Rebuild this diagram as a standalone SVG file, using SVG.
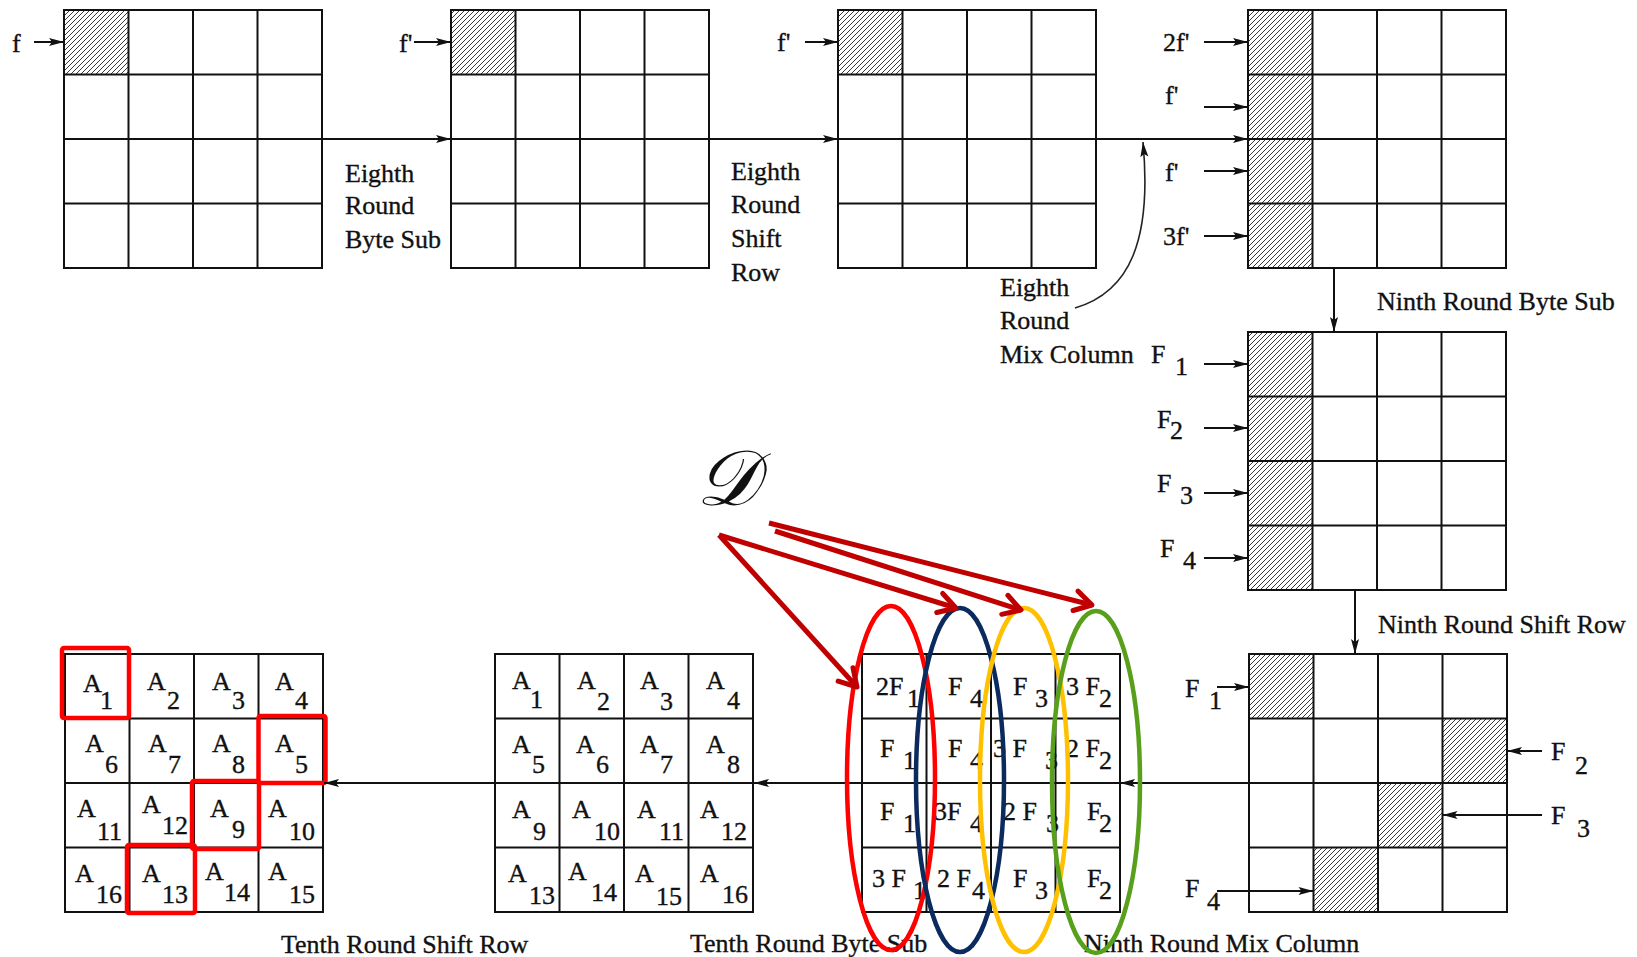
<svg xmlns="http://www.w3.org/2000/svg" width="1637" height="957" viewBox="0 0 1637 957">
<style>
.t{font-family:"Liberation Serif","Times New Roman",serif;font-size:26px;fill:#111;stroke:#111;stroke-width:0.35}
.s{font-family:"Liberation Serif","Times New Roman",serif;font-size:26px;fill:#111;stroke:#111;stroke-width:0.35}
.g{fill:none;stroke:#111;stroke-width:2}
.h{fill:url(#hatch)}
.ar{fill:none;stroke:#111;stroke-width:2;marker-end:url(#ah)}
.cv{fill:none;stroke:#222;stroke-width:1.6;marker-end:url(#ah)}
.ra{fill:none;stroke:#c00000;stroke-width:5;marker-end:url(#rh)}
.rb{fill:none;stroke:#ff0000;stroke-width:4.5}
.el{fill:none;stroke-width:4.5}
</style>
<defs>
<pattern id="hatch" patternUnits="userSpaceOnUse" width="5" height="5">
<path d="M-1,1 L1,-1 M0,5 L5,0 M4,6 L6,4" stroke="#222" stroke-width="0.9"/>
</pattern>
<g id="grid">
<rect class="g" x="0" y="0" width="258" height="258"/>
<path class="g" d="M64.5,0V258M129,0V258M193.5,0V258M0,64.5H258M0,129H258M0,193.5H258"/>
</g>
<marker id="ah" markerUnits="userSpaceOnUse" markerWidth="16" markerHeight="10" refX="15" refY="5" orient="auto" overflow="visible">
<path d="M0,1 L15,5 L0,9 L3,5 Z" fill="#111"/>
</marker>
<marker id="rh" markerUnits="userSpaceOnUse" markerWidth="24" markerHeight="24" refX="20" refY="11" orient="auto" overflow="visible">
<path d="M3,1 L20,11 L3,21" fill="none" stroke="#c00000" stroke-width="5" stroke-linejoin="round" stroke-linecap="round"/>
</marker>
</defs>
<rect width="1637" height="957" fill="#fff"/>

<g id="g1">
<rect class="h" x="64" y="10" width="64.5" height="64.5"/>
<use href="#grid" x="64" y="10"/>
<text class="t" x="12" y="52">f</text>
<text class="t" x="345" y="182">Eighth</text>
<text class="t" x="345" y="214">Round</text>
<text class="t" x="345" y="248">Byte Sub</text>
</g>
<g id="g2">
<rect class="h" x="451" y="10" width="64.5" height="64.5"/>
<use href="#grid" x="451" y="10"/>
<text class="t" x="399" y="52">f'</text>
<text class="t" x="731" y="180">Eighth</text>
<text class="t" x="731" y="213">Round</text>
<text class="t" x="731" y="247">Shift</text>
<text class="t" x="731" y="281">Row</text>
</g>
<g id="g3">
<rect class="h" x="838" y="10" width="64.5" height="64.5"/>
<use href="#grid" x="838" y="10"/>
<text class="t" x="777" y="51">f'</text>
<text class="t" x="1000" y="296">Eighth</text>
<text class="t" x="1000" y="329">Round</text>
<text class="t" x="1000" y="363">Mix Column</text>
</g>
<g id="g4">
<rect class="h" x="1248" y="10" width="64.5" height="258"/>
<use href="#grid" x="1248" y="10"/>
<text class="t" x="1163" y="51">2f'</text>
<text class="t" x="1165" y="104">f'</text>
<text class="t" x="1165" y="181">f'</text>
<text class="t" x="1163" y="245">3f'</text>
<text class="t" x="1377" y="310">Ninth Round Byte Sub</text>
</g>
<g id="g5">
<rect class="h" x="1248" y="332" width="64.5" height="258"/>
<use href="#grid" x="1248" y="332"/>
<text class="t" x="1151" y="363">F</text><text class="s" x="1175" y="375">1</text>
<text class="t" x="1157" y="428">F</text><text class="s" x="1170" y="439">2</text>
<text class="t" x="1157" y="492">F</text><text class="s" x="1180" y="504">3</text>
<text class="t" x="1160" y="557">F</text><text class="s" x="1183" y="569">4</text>
</g>
<g id="g6">
<rect class="h" x="1249" y="654" width="64.5" height="64.5"/>
<rect class="h" x="1442.5" y="718.5" width="64.5" height="64.5"/>
<rect class="h" x="1378" y="783" width="64.5" height="64.5"/>
<rect class="h" x="1313.5" y="847.5" width="64.5" height="64.5"/>
<use href="#grid" x="1249" y="654"/>
<text class="t" x="1378" y="633">Ninth Round Shift Row</text>
<text class="t" x="1185" y="697">F</text><text class="s" x="1209" y="709">1</text>
<text class="t" x="1551" y="760">F</text><text class="s" x="1575" y="774">2</text>
<text class="t" x="1551" y="824">F</text><text class="s" x="1577" y="837">3</text>
<text class="t" x="1185" y="897">F</text><text class="s" x="1207" y="910">4</text>
</g>
<g id="g7">
<use href="#grid" x="862" y="654"/>
<text class="t" x="876" y="695">2F</text><text class="s" x="907" y="707">1</text>
<text class="t" x="948" y="695">F</text><text class="s" x="970" y="707">4</text>
<text class="t" x="1013" y="695">F</text><text class="s" x="1035" y="707">3</text>
<text class="t" x="1066" y="695">3 F</text><text class="s" x="1099" y="707">2</text>
<text class="t" x="880" y="757">F</text><text class="s" x="903" y="769">1</text>
<text class="t" x="948" y="757">F</text><text class="s" x="970" y="769">4</text>
<text class="t" x="993" y="757">3 F</text><text class="s" x="1045" y="769">3</text>
<text class="t" x="1066" y="757">2 F</text><text class="s" x="1099" y="769">2</text>
<text class="t" x="880" y="820">F</text><text class="s" x="903" y="832">1</text>
<text class="t" x="934" y="820">3F</text><text class="s" x="970" y="832">4</text>
<text class="t" x="1003" y="820">2 F</text><text class="s" x="1046" y="832">3</text>
<text class="t" x="1087" y="820">F</text><text class="s" x="1099" y="832">2</text>
<text class="t" x="872" y="887">3 F</text><text class="s" x="913" y="899">1</text>
<text class="t" x="937" y="887">2 F</text><text class="s" x="972" y="899">4</text>
<text class="t" x="1013" y="887">F</text><text class="s" x="1035" y="899">3</text>
<text class="t" x="1087" y="887">F</text><text class="s" x="1099" y="899">2</text>
<text class="t" x="1084" y="952">Ninth Round Mix Column</text>
</g>
<g id="g8">
<use href="#grid" x="495" y="654"/>
<text class="t" x="512" y="689">A</text><text class="s" x="530" y="708">1</text>
<text class="t" x="577" y="689">A</text><text class="s" x="597" y="710">2</text>
<text class="t" x="640" y="689">A</text><text class="s" x="660" y="710">3</text>
<text class="t" x="706" y="689">A</text><text class="s" x="727" y="709">4</text>
<text class="t" x="512" y="753">A</text><text class="s" x="532" y="773">5</text>
<text class="t" x="576" y="753">A</text><text class="s" x="596" y="773">6</text>
<text class="t" x="640" y="753">A</text><text class="s" x="660" y="773">7</text>
<text class="t" x="706" y="753">A</text><text class="s" x="727" y="773">8</text>
<text class="t" x="512" y="818">A</text><text class="s" x="533" y="840">9</text>
<text class="t" x="572" y="818">A</text><text class="s" x="594" y="840">10</text>
<text class="t" x="637" y="818">A</text><text class="s" x="659" y="840">11</text>
<text class="t" x="700" y="818">A</text><text class="s" x="721" y="840">12</text>
<text class="t" x="508" y="882">A</text><text class="s" x="529" y="904">13</text>
<text class="t" x="568" y="880">A</text><text class="s" x="591" y="901">14</text>
<text class="t" x="635" y="882">A</text><text class="s" x="656" y="905">15</text>
<text class="t" x="700" y="882">A</text><text class="s" x="722" y="903">16</text>
<text class="t" x="690" y="952">Tenth Round Byte Sub</text>
</g>
<g id="g9">
<use href="#grid" x="65" y="654"/>
<text class="t" x="83" y="692">A</text><text class="s" x="100" y="709">1</text>
<text class="t" x="147" y="690">A</text><text class="s" x="167" y="709">2</text>
<text class="t" x="212" y="690">A</text><text class="s" x="232" y="709">3</text>
<text class="t" x="275" y="690">A</text><text class="s" x="295" y="709">4</text>
<text class="t" x="85" y="752">A</text><text class="s" x="105" y="773">6</text>
<text class="t" x="148" y="752">A</text><text class="s" x="168" y="773">7</text>
<text class="t" x="212" y="752">A</text><text class="s" x="232" y="773">8</text>
<text class="t" x="275" y="752">A</text><text class="s" x="295" y="773">5</text>
<text class="t" x="77" y="817">A</text><text class="s" x="97" y="840">11</text>
<text class="t" x="142" y="813">A</text><text class="s" x="162" y="834">12</text>
<text class="t" x="210" y="817">A</text><text class="s" x="232" y="838">9</text>
<text class="t" x="268" y="817">A</text><text class="s" x="289" y="840">10</text>
<text class="t" x="75" y="882">A</text><text class="s" x="96" y="903">16</text>
<text class="t" x="142" y="882">A</text><text class="s" x="162" y="903">13</text>
<text class="t" x="205" y="880">A</text><text class="s" x="224" y="901">14</text>
<text class="t" x="268" y="880">A</text><text class="s" x="289" y="903">15</text>
<rect class="rb" x="62" y="648" width="67" height="70" rx="2"/>
<rect class="rb" x="258.5" y="716" width="67" height="67" rx="2"/>
<rect class="rb" x="192" y="781" width="67" height="68" rx="2"/>
<rect class="rb" x="127" y="845" width="68" height="68" rx="2"/>
<text class="t" x="281" y="953">Tenth Round Shift Row</text>
</g>

<g id="connectors">
<path class="ar" d="M34,42H64"/>
<path class="ar" d="M414,42H451"/>
<path class="ar" d="M805,42H838"/>
<path class="ar" d="M322,139H451"/>
<path class="ar" d="M709,139H838"/>
<path class="ar" d="M1096,139H1248"/>
<path class="ar" d="M1204,42H1248"/>
<path class="ar" d="M1204,107H1248"/>
<path class="ar" d="M1204,171H1248"/>
<path class="ar" d="M1204,236H1248"/>
<path class="cv" d="M1075,308C1130,292 1152,240 1143,142"/>
<path class="ar" d="M1334,268V332"/>
<path class="ar" d="M1204,364H1248"/>
<path class="ar" d="M1204,428H1248"/>
<path class="ar" d="M1204,493H1248"/>
<path class="ar" d="M1204,558H1248"/>
<path class="ar" d="M1355,590V654"/>
<path class="ar" d="M1217,687H1249"/>
<path class="ar" d="M1217,891H1313.5"/>
<path class="ar" d="M1542,751H1507"/>
<path class="ar" d="M1542,815H1442.5"/>
<path class="ar" d="M1249,783H1120"/>
<path class="ar" d="M862,783H754"/>
<path class="ar" d="M495,783H324"/>
</g>

<g id="ellipses">
<ellipse class="el" stroke="#ff0000" cx="891" cy="778" rx="44" ry="172"/>
<ellipse class="el" stroke="#0b2a5e" cx="960" cy="780" rx="44" ry="172"/>
<ellipse class="el" stroke="#ffc000" cx="1024" cy="780" rx="44" ry="172"/>
<ellipse class="el" stroke="#58a01c" cx="1096" cy="782" rx="44" ry="171"/>
</g>

<g id="d-label">
<text x="696" y="505" style="font-family:'DejaVu Serif','Noto Sans',serif;font-size:78px;font-style:italic;fill:#111">𝒟</text>
</g>
<g id="red-arrows">
<path class="ra" d="M719,535L857,687"/>
<path class="ra" d="M719,535L956,608"/>
<path class="ra" d="M775,531L1021,610"/>
<path class="ra" d="M769,523L1092,605"/>
</g>
</svg>
